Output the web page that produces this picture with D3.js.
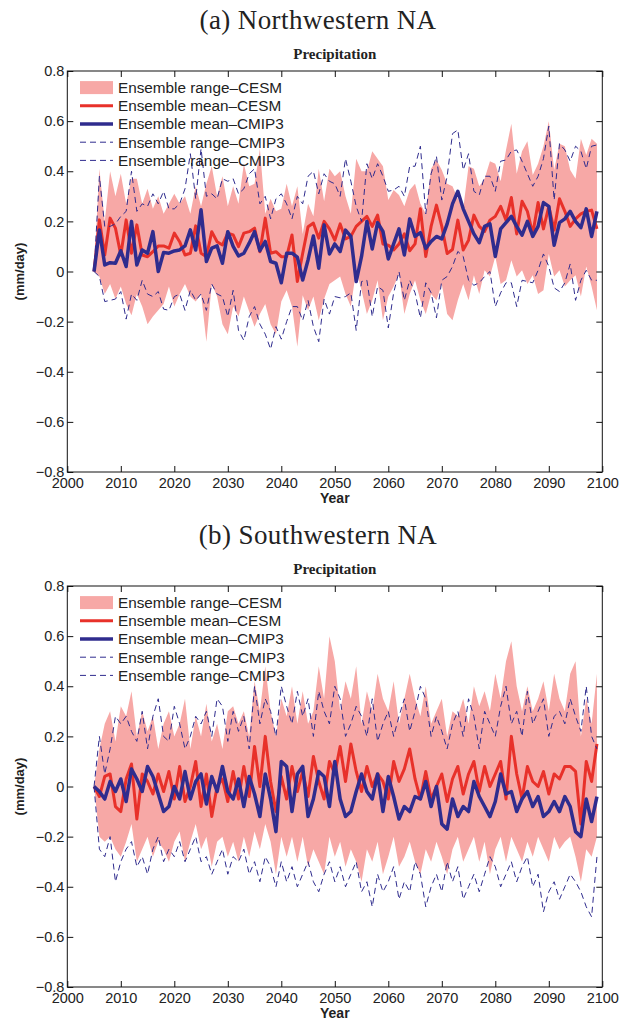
<!DOCTYPE html>
<html>
<head>
<meta charset="utf-8">
<script src="https://cdn.jsdelivr.net/npm/d3@7"></script>
<style>
  body { margin: 0; background: #fff; }
  text { fill: #222; }
</style>
</head>
<body>
<svg id="fig" width="632" height="1022"></svg>
<script>
// years 2005..2099, one value per year
const firstYear = 2005;

// (a) Northwestern NA
const nwCesmMean = [0, .206, .066, .213, .173, .066, .206, .073, .186, .066,
  .059, .079, .102, .102, .093, .153, .119, .066, .073, .182,
  .073, .059, .159, .119, .106, .153, .146, .099, .153, .159,
  .173, .079, .213, .073, .079, .059, .059, .146, -.04, .073,
  .179, .193, .133, .2, .17, .125, .19, .13, .14, .18,
  .2, .22, .18, .225, .11, .105, .086, .11, .15, .083,
  .11, .25, .06, .18, .265, .18, .072, .088, .205, .086,
  .125, .225, .18, .16, .205, .22, .26, .205, .295, .15,
  .28, .24, .15, .275, .17, .26, .165, .29, .24, .18,
  .21, .23, .24, .245, .17];
const nwCesmHi = [0, .41, .2, .4, .3, .39, .27, .37, .37, .27,
  .33, .25, .3, .23, .27, .31, .27, .3, .23, .34,
  .26, .35, .42, .3, .38, .26, .34, .27, .43, .34,
  .35, .49, .23, .29, .24, .25, .35, .26, .34, .15,
  .27, .22, .41, .28, .41, .38, .4, .3, .23, .45,
  .4, .4, .48, .45, .42, .285, .325, .305, .26, .325,
  .35, .27, .23, .41, .445, .405, .35, .34, .29, .25,
  .42, .41, .34, .37, .44, .43, .36, .485, .59, .39,
  .48, .52, .385, .43, .5, .6, .405, .51, .5, .405,
  .37, .53, .465, .53, .51];
const nwCesmLo = [0, -.02, -.09, -.05, -.11, -.06, -.13, -.175, -.09, -.14,
  -.21, -.18, -.155, -.13, -.06, -.14, -.09, -.05, -.1, -.12,
  -.09, -.28, -.05, -.1, -.21, -.25, -.14, -.18, -.1, -.16,
  -.22, -.17, -.13, -.21, -.25, -.12, -.075, -.14, -.3, -.095,
  -.155, -.1, -.195, -.11, -.05, -.035, -.02, -.09, -.14, .005,
  -.075, -.17, -.115, -.035, -.195, -.1, -.06, -.01, -.17, -.09,
  -.035, -.115, -.17, -.09, -.115, -.05, -.17, -.195, -.115, -.05,
  -.115, -.015, -.09, .005, -.02, .06, -.05, -.035, .045, -.02,
  .005, -.05, -.015, -.09, -.075, .07, -.02, .005, -.06, -.035,
  -.015, -.1, .02, -.06, -.155];
const nwCmipMean = [0, .166, .026, .035, .033, .083, .02, .2, .026, .086,
  .073, .159, 0, .076, .073, .082, .086, .102, .166, .086,
  .246, .04, .093, .102, .033, .159, .1, .062, .073, .113,
  .159, .083, .12, .04, .033, -.045, .073, .073, .057, -.034,
  .046, .142, .013, .186, .07, .11, .08, .165, .14, -.04,
  .06, .2, .09, .195, .16, .05, .11, .17, .066, .21,
  .14, .155, .092, .12, .14, .13, .19, .27, .32, .25,
  .2, .15, .115, .18, .19, .06, .17, .195, .22, .18,
  .145, .2, .14, .18, .275, .26, .105, .195, .21, .24,
  .2, .175, .25, .14, .24];
const nwCmipHi = [0, .38, .18, .18, .19, .22, .24, .4, .24, .27,
  .26, .31, .27, .32, .25, .25, .27, .33, .47, .29,
  .49, .3, .31, .29, .37, .36, .37, .31, .33, .39,
  .41, .27, .3, .21, .29, .31, .27, .21, .3, .27,
  .38, .4, .31, .39, .36, .35, .3, .45, .36, .26,
  .2, .43, .37, .43, .38, .32, .325, .34, .3, .42,
  .42, .5, .23, .39, .46, .285, .38, .55, .565, .405,
  .47, .32, .305, .38, .38, .32, .44, .445, .48, .485,
  .44, .39, .34, .38, .45, .58, .285, .51, .485, .44,
  .5, .48, .41, .5, .505];
const nwCmipLo = [0, -.02, -.12, -.115, -.11, -.08, -.19, -.09, -.115, -.035,
  -.09, -.1, -.08, -.15, -.155, -.1, -.09, -.155, -.075, -.115,
  -.09, -.155, -.05, -.09, -.1, -.18, -.075, -.235, -.275, -.18,
  -.14, -.21, -.25, -.31, -.22, -.27, -.2, -.14, -.14, -.195,
  -.115, -.22, -.28, -.11, -.17, -.1, -.105, -.1, -.085, -.235,
  -.04, -.035, -.18, -.06, -.075, -.225, -.085, 0, -.115, -.035,
  -.085, -.185, -.045, -.085, -.185, -.035, -.02, .02, .08, .06,
  -.035, -.055, -.045, -.02, 0, -.14, -.085, -.045, -.045, -.14,
  -.035, -.04, -.045, .005, .07, .02, -.065, -.08, -.045, .03,
  -.115, -.035, .005, -.035, -.035];

// (b) Southwestern NA
const swCesmMean = [0, -.04, .04, .05, -.08, -.1, .03, .09, -.13, .05,
  .02, -.03, .05, -.02, .06, -.05, .08, -.06, 0, .1,
  -.08, .05, -.12, 0, .03, -.06, .06, -.05, .08, -.04,
  .16, 0, .2, .02, -.1, .04, -.05, .08, -.02, .06,
  -.04, .12, .02, -.05, .1, .05, .16, .02, .17, .06,
  -.02, .08, 0, .05, .02, -.05, .1, .02, .07, .15,
  .03, -.05, .06, -.05, 0, .05, -.06, .03, .08, -.03,
  .05, .1, -.02, .08, 0, .05, .1, -.05, .2, .05,
  -.05, .08, .02, 0, .06, -.03, .05, .03, .08, .08,
  .06, -.15, .1, .02, .17];
const swCesmHi = [0, .15, .25, .3, .18, .32, .28, .38, .2, .3,
  .22, .28, .15, .25, .3, .2, .25, .35, .15, .28,
  .2, .33, .18, .25, .15, .3, .32, .25, .3, .2,
  .42, .3, .48, .3, .2, .35, .28, .4, .25, .38,
  .25, .3, .48, .35, .6, .5, .3, .42, .35, .48,
  .25, .38, .3, .45, .35, .3, .42, .25, .35, .45,
  .35, .28, .4, .25, .3, .35, .2, .3, .28, .35,
  .25, .4, .32, .38, .3, .45, .35, .5, .58, .4,
  .3, .4, .3, .35, .42, .3, .45, .35, .3, .45,
  .5, .2, .35, .25, .45];
const swCesmLo = [0, -.2, -.22, -.2, -.25, -.28, -.22, -.15, -.3, -.25,
  -.2, -.28, -.22, -.25, -.3, -.22, -.18, -.3, -.22, -.15,
  -.25, -.2, -.32, -.22, -.2, -.28, -.22, -.3, -.2, -.28,
  -.18, -.25, -.15, -.22, -.35, -.2, -.28, -.2, -.3, -.2,
  -.32, -.25, -.3, -.35, -.2, -.28, -.22, -.32, -.25, -.3,
  -.38, -.25, -.3, -.22, -.35, -.28, -.2, -.32, -.28, -.22,
  -.3, -.35, -.25, -.3, -.22, -.28, -.35, -.25, -.2, -.3,
  -.25, -.2, -.3, -.22, -.35, -.25, -.2, -.3, -.2, -.25,
  -.3, -.22, -.28, -.2, -.25, -.3, -.2, -.25, -.22, -.2,
  -.28, -.38, -.25, -.28, -.2];
const swCmipMean = [0, -.02, -.05, .02, -.02, .03, -.06, .07, .03, -.02,
  .08, .04, -.03, -.1, -.08, 0, -.05, .06, -.05, .02,
  .05, -.07, .04, -.02, .08, -.02, -.05, .03, -.08, .04,
  -.03, -.12, .05, -.05, -.18, .1, .08, -.1, .05, .08,
  -.12, -.05, .06, .04, -.08, .1, -.05, -.12, -.1, -.02,
  .05, -.02, -.05, .05, -.1, .04, -.04, -.13, -.08, -.1,
  -.04, -.05, .02, -.08, 0, -.15, -.17, -.05, -.12, -.08,
  -.1, .02, -.04, -.08, -.12, -.06, .05, -.03, -.02, -.1,
  -.05, -.02, -.08, -.04, -.12, -.1, -.06, -.1, -.04, -.08,
  -.18, -.2, -.05, -.14, -.04];
const swCmipHi = [0, .2, .05, .15, .28, .25, .28, .22, .18, .3,
  .15, .28, .35, .2, .18, .32, .25, .15, .2, .28,
  .25, .3, .2, .35, .32, .18, .3, .22, .28, .15,
  .4, .25, .35, .3, .2, .4, .32, .25, .38, .28,
  .35, .2, .38, .3, .25, .4, .35, .2, .25, .32,
  .28, .2, .35, .18, .25, .3, .2, .28, .35, .22,
  .3, .4, .35, .2, .28, .22, .15, .25, .3, .2,
  .35, .28, .15, .3, .25, .2, .32, .4, .25, .3,
  .2, .38, .25, .3, .35, .2, .28, .3, .25, .35,
  .28, .22, .4, .2, .15];
const swCmipLo = [0, -.25, -.28, -.2, -.38, -.3, -.25, -.22, -.32, -.28,
  -.35, -.25, -.2, -.3, -.25, -.28, -.22, -.3, -.25, -.2,
  -.3, -.28, -.35, -.3, -.25, -.35, -.28, -.3, -.25, -.35,
  -.3, -.38, -.28, -.32, -.4, -.3, -.38, -.32, -.4, -.35,
  -.3, -.38, -.42, -.35, -.3, -.38, -.32, -.4, -.35, -.3,
  -.42, -.38, -.48, -.35, -.42, -.38, -.32, -.45, -.38, -.42,
  -.3, -.35, -.48, -.4, -.35, -.42, -.3, -.38, -.32, -.45,
  -.4, -.35, -.42, -.35, -.28, -.32, -.4, -.35, -.3, -.38,
  -.32, -.28, -.4, -.35, -.5, -.42, -.38, -.45, -.4, -.35,
  -.38, -.42, -.48, -.52, -.28];

const xTicks = [2000, 2010, 2020, 2030, 2040, 2050, 2060, 2070, 2080, 2090, 2100];
const yTicks = [-0.8, -0.6, -0.4, -0.2, 0, 0.2, 0.4, 0.6, 0.8];
const legendLabels = ["Ensemble range\u2013CESM", "Ensemble mean\u2013CESM", "Ensemble mean\u2013CMIP3",
  "Ensemble range\u2013CMIP3", "Ensemble range\u2013CMIP3"];

const pink = "#f7a8a6", red = "#e8312a", navy = "#2f2c8e";
const sans = "'Liberation Sans', Arial, sans-serif";
const serif = "'Liberation Serif', 'Times New Roman', serif";

const svg = d3.select("#fig");

function drawPanel(top, title, d) {
  const left = 67.3, right = 602.3, bottom = top + 401;
  const x = d3.scaleLinear().domain([2000, 2100]).range([left, right]);
  const y = d3.scaleLinear().domain([-0.8, 0.8]).range([bottom, top]);
  const yr = i => firstYear + i;

  const g = svg.append("g");

  g.append("text").attr("x", 318).attr("y", top - 42)
    .attr("text-anchor", "middle").style("font-family", serif).style("font-size", "27px")
    .style("letter-spacing", "0.4px").text(title);
  g.append("text").attr("x", (left + right) / 2).attr("y", top - 12)
    .attr("text-anchor", "middle").style("font-family", serif).style("font-size", "15px")
    .style("font-weight", "bold").text("Precipitation");

  // pink band
  const area = d3.area().x((v, i) => x(yr(i))).y0((v, i) => y(d.cesmLo[i])).y1(v => y(v));
  g.append("path").datum(d.cesmHi).attr("d", area).attr("fill", pink);

  const line = d3.line().x((v, i) => x(yr(i))).y(v => y(v));
  g.append("path").datum(d.cesmMean).attr("d", line)
    .attr("fill", "none").attr("stroke", red).attr("stroke-width", 3).attr("stroke-linejoin", "round");
  g.append("path").datum(d.cmipMean).attr("d", line)
    .attr("fill", "none").attr("stroke", navy).attr("stroke-width", 3.5).attr("stroke-linejoin", "round");
  [d.cmipHi, d.cmipLo].forEach(s => {
    g.append("path").datum(s).attr("d", line)
      .attr("fill", "none").attr("stroke", navy).attr("stroke-width", 1)
      .attr("stroke-dasharray", "6,4");
  });

  // axes, ticks pointing inward on all four sides
  const fmt = v => v === 0 ? "0" : (v < 0 ? "\u2212" : "") + Math.abs(v).toFixed(1);
  const ax = [
    g.append("g").attr("transform", `translate(0,${bottom})`)
      .call(d3.axisBottom(x).tickValues(xTicks).tickFormat(d3.format("d")).tickSize(-6).tickPadding(6)),
    g.append("g").attr("transform", `translate(0,${top})`)
      .call(d3.axisTop(x).tickValues(xTicks).tickFormat("").tickSize(-6)),
    g.append("g").attr("transform", `translate(${left},0)`)
      .call(d3.axisLeft(y).tickValues(yTicks).tickFormat(fmt).tickSize(-6).tickPadding(3)),
    g.append("g").attr("transform", `translate(${right},0)`)
      .call(d3.axisRight(y).tickValues(yTicks).tickFormat("").tickSize(-6))
  ];
  ax.forEach(a => {
    a.select(".domain").remove();
    a.selectAll("line").attr("stroke", "#111");
    a.selectAll("text").style("font-family", sans).style("font-size", "14.5px").attr("fill", "#222");
  });
  g.append("rect").attr("x", left).attr("y", top).attr("width", right - left).attr("height", bottom - top)
    .attr("fill", "none").attr("stroke", "#111").attr("stroke-width", 1);

  g.append("text").attr("x", (left + right) / 2).attr("y", bottom + 31)
    .attr("text-anchor", "middle").style("font-family", sans).style("font-size", "14px")
    .style("font-weight", "bold").text("Year");
  g.append("text").attr("transform", `translate(24,${(top + bottom) / 2}) rotate(-90)`)
    .attr("text-anchor", "middle").style("font-family", sans).style("font-size", "13px")
    .style("font-weight", "bold").text("(mm/day)");

  // legend
  const lg = g.append("g");
  legendLabels.forEach((lab, i) => {
    const cy = top + 16.6 + i * 18.2;
    if (i === 0) {
      lg.append("rect").attr("x", 80).attr("y", cy - 6.5).attr("width", 33).attr("height", 13).attr("fill", pink);
    } else {
      lg.append("line").attr("x1", 80).attr("x2", 113).attr("y1", cy).attr("y2", cy)
        .attr("stroke", i === 1 ? red : navy)
        .attr("stroke-width", i === 1 ? 3 : (i === 2 ? 3.5 : 1))
        .attr("stroke-dasharray", i > 2 ? "6,4" : null);
    }
    lg.append("text").attr("x", 118).attr("y", cy).attr("dy", "0.35em")
      .style("font-family", sans).style("font-size", "15.3px").attr("fill", "#333").text(lab);
  });
}

drawPanel(71, "(a) Northwestern NA", {
  cesmMean: nwCesmMean, cesmHi: nwCesmHi, cesmLo: nwCesmLo,
  cmipMean: nwCmipMean, cmipHi: nwCmipHi, cmipLo: nwCmipLo
});
drawPanel(586, "(b) Southwestern NA", {
  cesmMean: swCesmMean, cesmHi: swCesmHi, cesmLo: swCesmLo,
  cmipMean: swCmipMean, cmipHi: swCmipHi, cmipLo: swCmipLo
});
</script>
</body>
</html>
